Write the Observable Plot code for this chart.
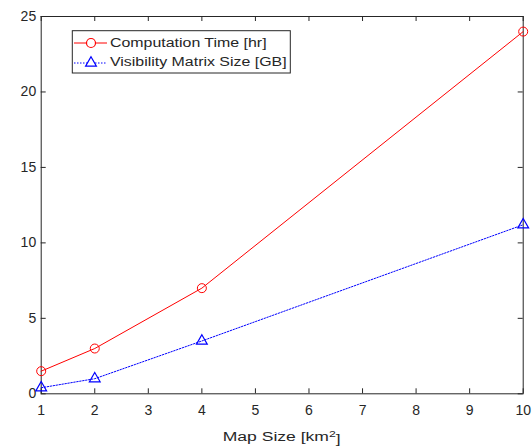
<!DOCTYPE html>
<html><head><meta charset="utf-8">
<script src="https://cdn.jsdelivr.net/npm/d3@7"></script>
<script src="https://cdn.jsdelivr.net/npm/@observablehq/plot@0.6"></script>
<style>
body{margin:0;background:#fff;}
</style></head><body><div id="chart"></div>
<script>
const mapSize = [1, 2, 4, 10];
const computationTime = [1.5, 3, 7, 24];
const visibilitySize = [0.4, 1.0, 3.5, 11.2];
const xTicks = [1, 2, 3, 4, 5, 6, 7, 8, 9, 10];
const yTicks = [0, 5, 10, 15, 20, 25];
const seriesNames = ["Computation Time [hr]", "Visibility Matrix Size [GB]"];
const xLabel = ["Map Size [km", "2", "]"];

const W = 532, H = 448, mL = 40.7, mR = 9.3, mT = 16, mB = 54.7;
const pw = W - mL - mR, ph = H - mT - mB;
const ink = "#262626", red = "#ff0000", blue = "#0000ff";
const font = "'Liberation Sans', Arial, Helvetica, sans-serif";

const comp = mapSize.map((x, i) => ({x, y: computationTime[i]}));
const vis = mapSize.map((x, i) => ({x, y: visibilitySize[i]}));

const chart = Plot.plot({
  width: W, height: H,
  marginLeft: mL, marginRight: mR, marginTop: mT, marginBottom: mB,
  style: {fontFamily: font, fontSize: "14px", color: ink, background: "#fff"},
  x: {domain: [1, 10]},
  y: {domain: [0, 25]},
  marks: [
    Plot.frame({stroke: ink, strokeWidth: 1}),
    Plot.tickX(xTicks, {x: d => d, stroke: ink, insetTop: ph - 5}),
    Plot.tickX(xTicks, {x: d => d, stroke: ink, insetBottom: ph - 5}),
    Plot.tickY(yTicks, {y: d => d, stroke: ink, insetRight: pw - 5}),
    Plot.tickY(yTicks, {y: d => d, stroke: ink, insetLeft: pw - 5}),
    Plot.axisX({ticks: xTicks, tickSize: 0, tickPadding: 11.7, label: null, fill: ink, tickFormat: d => String(d)}),
    Plot.axisY({ticks: yTicks, tickSize: 0, tickPadding: 5, label: null, fill: ink, tickFormat: d => String(d)}),
    Plot.line(comp, {x: "x", y: "y", stroke: red, strokeWidth: 1}),
    Plot.dot(comp, {x: "x", y: "y", r: 4.5, symbol: "circle", stroke: red, fill: "none", strokeWidth: 1}),
    Plot.line(vis, {x: "x", y: "y", stroke: blue, strokeWidth: 1, strokeDasharray: "1.5,1.5"}),
    Plot.dot(vis, {x: "x", y: "y", r: 4, symbol: "triangle", stroke: blue, fill: "none", strokeWidth: 1.2})
  ]
});

const svg = d3.select(chart);

// x-axis label
const lab = svg.append("text")
  .attr("transform", `translate(${mL + pw / 2},441.3) scale(1.3,1)`)
  .attr("text-anchor", "middle")
  .attr("fill", ink)
  .style("font-family", font)
  .style("font-size", "13.5px");
lab.append("tspan").text(xLabel[0]);
lab.append("tspan").attr("dy", "-0.45em").style("font-size", "9.5px").text(xLabel[1]);
lab.append("tspan").attr("dy", "0.45em").text(xLabel[2]);

// legend
const lg = svg.append("g");
lg.append("rect").attr("x", 72.3).attr("y", 30.7).attr("width", 218).attr("height", 42.3)
  .attr("fill", "#fff").attr("stroke", ink).attr("stroke-width", 1);
const rows = [
  {name: seriesNames[0], color: red, dash: null, sym: d3.symbolCircle, size: Math.PI * 4.5 * 4.5, ly: 43, ty: 46.5},
  {name: seriesNames[1], color: blue, dash: "1.5,1.5", sym: d3.symbolTriangle, size: Math.PI * 16, ly: 63, ty: 66}
];
rows.forEach(r => {
  lg.append("line").attr("x1", 74).attr("x2", 107).attr("y1", r.ly).attr("y2", r.ly)
    .attr("stroke", r.color).attr("stroke-width", 1).attr("stroke-dasharray", r.dash);
  lg.append("path").attr("d", d3.symbol(r.sym, r.size)())
    .attr("transform", `translate(91,${r.ly})`)
    .attr("fill", "#fff").attr("stroke", r.color).attr("stroke-width", 1.2);
  lg.append("text").attr("transform", `translate(110,${r.ty}) scale(1.18,1)`)
    .attr("text-anchor", "start")
    .attr("fill", ink).style("font-family", font).style("font-size", "13.5px").text(r.name);
});

document.getElementById("chart").appendChild(chart);
</script></body></html>
